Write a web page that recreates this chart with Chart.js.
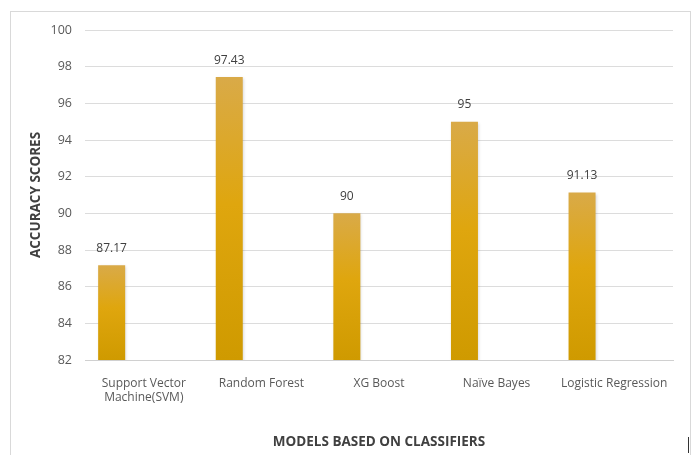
<!DOCTYPE html>
<html>
<head>
<meta charset="utf-8">
<script src="https://cdn.jsdelivr.net/npm/chart.js@4"></script>
<style>
  body { margin: 0; background: #fff; }
  #frame { position: absolute; left: 10px; top: 11px; width: 679px; height: 460px; border: 1px solid #d9d9d9; }
  #mark { position: absolute; left: 688px; top: 437px; width: 1px; height: 16px; background: #333; }
  #wrap { position: absolute; left: 0; top: 0; width: 697px; height: 455px; }
</style>
</head>
<body>
<div id="frame"></div>
<div id="mark"></div>
<div id="wrap"><canvas id="chart"></canvas></div>
<script>
const categories = [
  ['Support Vector', 'Machine(SVM)'],
  'Random Forest',
  'XG Boost',
  'Naïve Bayes',
  'Logistic Regression'
];
const accuracy = [87.17, 97.43, 90, 95, 91.13];
const accuracyLabels = ['87.17', '97.43', '90', '95', '91.13'];
const yMin = 82, yMax = 100, yStep = 2;

// bars in Excel sit at the left of each category (empty sibling series)
const emptySeries = [null, null, null, null, null];

const textColor = '#595959';
const font = "'Open Sans', 'Liberation Sans', sans-serif";

// vertical gradient for each bar, from its own top down to the axis
function barFill(c) {
  const chart = c.chart;
  const y = chart.scales.y;
  if (!chart.chartArea || !y || c.dataIndex == null) return '#dca617';
  const top = y.getPixelForValue(accuracy[c.dataIndex]);
  const bottom = y.getPixelForValue(yMin);
  const g = chart.ctx.createLinearGradient(0, top, 0, bottom);
  g.addColorStop(0, '#d9aa48');
  g.addColorStop(0.45, '#dfa60e');
  g.addColorStop(1, '#cf9a00');
  return g;
}

// soft shadow under bars + value labels on top
const barStyle = {
  id: 'barStyle',
  beforeDatasetsDraw(chart) {
    const ctx = chart.ctx;
    ctx.save();
    ctx.shadowColor = 'rgba(0,0,0,0.18)';
    ctx.shadowBlur = 3;
    ctx.shadowOffsetX = 1;
    ctx.shadowOffsetY = 1;
  },
  afterDatasetsDraw(chart) {
    const ctx = chart.ctx;
    ctx.restore();
    ctx.save();
    ctx.font = '12px ' + font;
    ctx.fillStyle = '#404040';
    ctx.textAlign = 'center';
    ctx.textBaseline = 'middle';
    chart.getDatasetMeta(0).data.forEach((bar, i) => {
      ctx.fillText(accuracyLabels[i], bar.x, bar.y - 17);
    });
    ctx.restore();
  }
};

new Chart(document.getElementById('chart'), {
  type: 'bar',
  data: {
    labels: categories,
    datasets: [
      { data: accuracy, backgroundColor: barFill, barPercentage: 0.84, categoryPercentage: 0.82 },
      { data: emptySeries, barPercentage: 0.84, categoryPercentage: 0.82 },
      { data: emptySeries, barPercentage: 0.84, categoryPercentage: 0.82 }
    ]
  },
  options: {
    responsive: true,
    maintainAspectRatio: false,
    animation: false,
    layout: { padding: { left: 10, right: 24, top: 30, bottom: 0 } },
    plugins: { legend: { display: false }, tooltip: { enabled: false } },
    scales: {
      x: {
        grid: { display: false },
        border: { color: '#d0d0d0' },
        ticks: { color: textColor, font: { family: font, size: 12 }, padding: 8, maxRotation: 0, autoSkip: false },
        title: { display: true, text: 'MODELS BASED ON CLASSIFIERS', color: '#404040', font: { family: font, size: 13.5, weight: 'bold' }, padding: { top: 0, bottom: 5 } },
        afterFit(scale) { scale.height = 95; }
      },
      y: {
        min: yMin,
        max: yMax,
        grid: { color: '#dcdcdc', drawTicks: false },
        border: { display: false },
        ticks: { stepSize: yStep, color: textColor, font: { family: font, size: 12.5 }, padding: 13 },
        title: { display: true, text: 'ACCURACY SCORES', color: '#404040', font: { family: font, size: 13.5, weight: 'bold' }, padding: { top: 18, bottom: 0 } },
        afterFit(scale) { scale.width = 75; }
      }
    }
  },
  plugins: [barStyle]
});
</script>
</body>
</html>
